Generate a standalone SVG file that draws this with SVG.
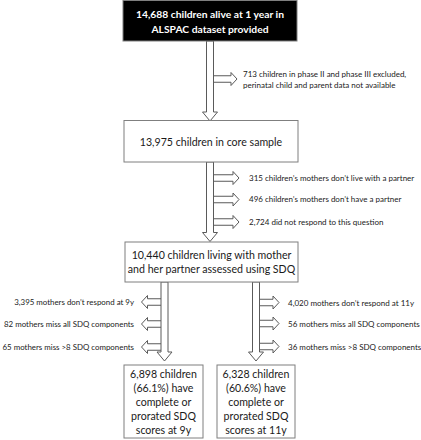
<svg xmlns="http://www.w3.org/2000/svg" width="421" height="440" viewBox="0 0 421 440">
<style>
.box{fill:#fff;stroke:#7f7f7f;stroke-width:1}
.dark{fill:#000;stroke:#7f7f7f;stroke-width:1}
.arr{fill:#fff;stroke:#5a5a5a;stroke-width:1;stroke-linejoin:miter}
.t{font-family:Lato,"Open Sans",sans-serif;font-size:10.6px;fill:#1a1a1a;text-anchor:middle}
.tw{font-family:Lato,"Open Sans",sans-serif;font-size:10.3px;font-weight:bold;fill:#fff;text-anchor:middle}
.s{font-family:Lato,"Open Sans",sans-serif;font-size:8px;fill:#1a1a1a}
.sr{font-family:Lato,"Open Sans",sans-serif;font-size:7.9px;fill:#1a1a1a;text-anchor:end}
</style>
<rect width="421" height="440" fill="#fff"/>
<g id="connectors">
  <path class="arr" d="M210 75.75H231V72.5L237 79L231 85.5V82.25H210Z"/>
  <path class="arr" d="M206.5 41V112H202.5L210 121L217.5 112H213.5V41Z"/>
  <path class="arr" d="M210 174.75H233V171.5L239 178L233 184.5V181.25H210Z"/>
  <path class="arr" d="M210 196.25H233V193L239 199.5L233 206V202.75H210Z"/>
  <path class="arr" d="M210 218.75H233V215.5L239 222L233 228.5V225.25H210Z"/>
  <path class="arr" d="M206.5 162V232.5H202.5L210 241.5L217.5 232.5H213.5V162Z"/>
  <path class="arr" d="M164.5 298.75H147.5V295.5L141.5 302L147.5 308.5V305.25H164.5Z"/>
  <path class="arr" d="M164.5 320.75H147.5V317.5L141.5 324L147.5 330.5V327.25H164.5Z"/>
  <path class="arr" d="M164.5 343.75H147.5V340.5L141.5 347L147.5 353.5V350.25H164.5Z"/>
  <path class="arr" d="M161 282V352H157L164.5 361L172 352H168V282Z"/>
  <path class="arr" d="M256 299.25H273V296L279 302.5L273 309V305.75H256Z"/>
  <path class="arr" d="M256 320.25H273V317L279 323.5L273 330V326.75H256Z"/>
  <path class="arr" d="M256 343.25H273V340L279 346.5L273 353V349.75H256Z"/>
  <path class="arr" d="M252.5 282V352H248.5L256 361L263.5 352H259.5V282Z"/>
</g>
<g id="n1">
  <rect class="dark" x="123" y="0.5" width="174" height="40.5"/>
  <text class="tw" x="210" y="18">14,688 children alive at 1 year in</text>
  <text class="tw" x="210" y="33">ALSPAC dataset provided</text>
</g>
<g id="n1x">
  <text class="s" x="243" y="77">713 children in phase II and phase III excluded,</text>
  <text class="s" x="243" y="88">perinatal child and parent data not available</text>
</g>
<g id="n2">
  <rect class="box" x="124" y="120.5" width="174" height="41.5"/>
  <text class="t" x="211" y="145.5">13,975 children in core sample</text>
</g>
<g id="n2x">
  <text class="s" x="249" y="180.5">315 children’s mothers don’t live with a partner</text>
  <text class="s" x="249" y="202">496 children’s mothers don’t have a partner</text>
  <text class="s" x="249" y="224.5">2,724 did not respond to this question</text>
</g>
<g id="n3">
  <rect class="box" x="125" y="242" width="173" height="40"/>
  <text class="t" x="211.5" y="258.5">10,440 children living with mother</text>
  <text class="t" x="211.5" y="273">and her partner assessed using SDQ</text>
</g>
<g id="n3l">
  <text class="sr" x="134" y="305">3,395 mothers don’t respond at 9y</text>
  <text class="sr" x="134" y="327">82 mothers miss all SDQ components</text>
  <text class="sr" x="134" y="350">65 mothers miss &gt;8 SDQ components</text>
</g>
<g id="n3r">
  <text class="s" x="288" y="305.5">4,020 mothers don’t respond at 11y</text>
  <text class="s" x="288" y="326.5">56 mothers miss all SDQ components</text>
  <text class="s" x="288" y="349.5">36 mothers miss &gt;8 SDQ components</text>
</g>
<g id="n4">
  <rect class="box" x="124" y="365" width="79" height="73"/>
  <text class="t" x="163.5" y="377.5">6,898 children</text>
  <text class="t" x="163.5" y="391.5">(66.1%) have</text>
  <text class="t" x="163.5" y="405.5">complete or</text>
  <text class="t" x="163.5" y="419.5">prorated SDQ</text>
  <text class="t" x="163.5" y="433.5">scores at 9y</text>
</g>
<g id="n5">
  <rect class="box" x="217" y="365" width="78" height="73"/>
  <text class="t" x="256" y="377.5">6,328 children</text>
  <text class="t" x="256" y="391.5">(60.6%) have</text>
  <text class="t" x="256" y="405.5">complete or</text>
  <text class="t" x="256" y="419.5">prorated SDQ</text>
  <text class="t" x="256" y="433.5">scores at 11y</text>
</g>
</svg>
